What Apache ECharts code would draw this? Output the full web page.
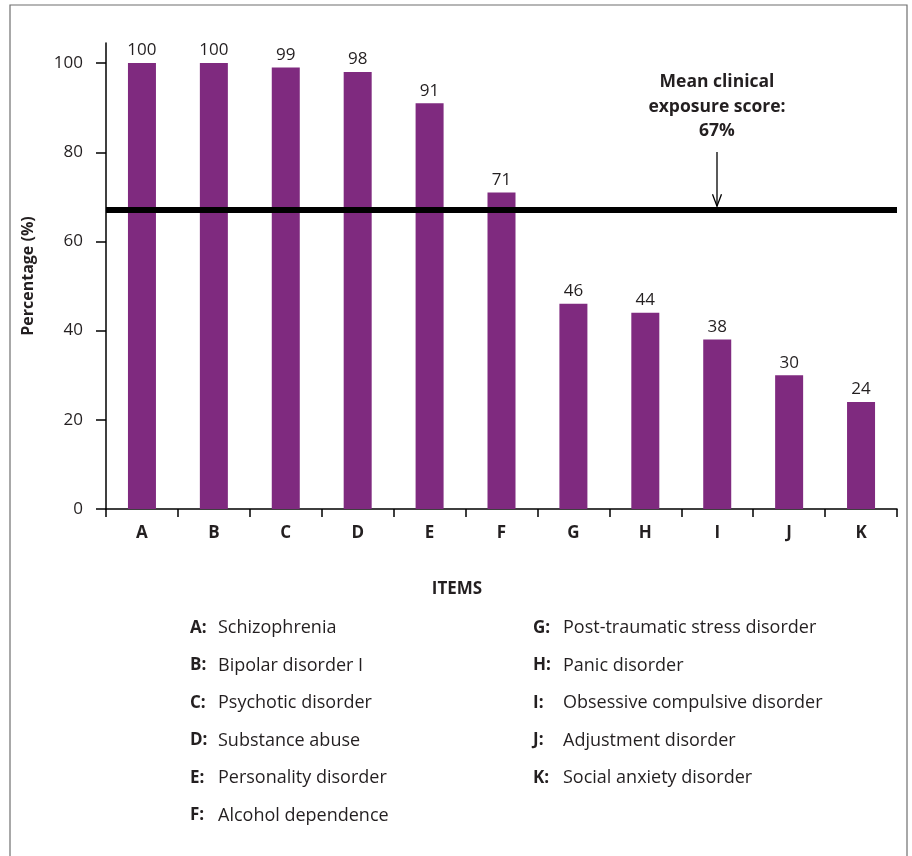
<!DOCTYPE html>
<html>
<head>
<meta charset="utf-8">
<script src="https://cdn.jsdelivr.net/npm/echarts@6/dist/echarts.min.js"></script>
<style>
  html, body { margin: 0; padding: 0; background: #fff; }
  #chart { width: 912px; height: 856px; }
</style>
</head>
<body>
<div id="chart"></div>
<script>
// Clinical exposure by diagnosis item (percentage of respondents)
const categories = ['A', 'B', 'C', 'D', 'E', 'F', 'G', 'H', 'I', 'J', 'K'];
const percentages = [100, 100, 99, 98, 91, 71, 46, 44, 38, 30, 24];
const itemNames = [
  'Schizophrenia',
  'Bipolar disorder I',
  'Psychotic disorder',
  'Substance abuse',
  'Personality disorder',
  'Alcohol dependence',
  'Post-traumatic stress disorder',
  'Panic disorder',
  'Obsessive compulsive disorder',
  'Adjustment disorder',
  'Social anxiety disorder'
];
const yTicks = [0, 20, 40, 60, 80, 100];
const meanScore = 67;

const FONT = '"Open Sans", "Noto Sans", sans-serif';
const INK = '#231f20';
const PURPLE = '#7f2a7f';

const chart = echarts.init(document.getElementById('chart'), null, { renderer: 'canvas' });

chart.setOption({
  backgroundColor: '#fff',
  animation: false,
  textStyle: { fontFamily: FONT, color: INK },
  grid: { left: 106, right: 15, top: 43, bottom: 347, containLabel: false },
  xAxis: {
    type: 'category',
    data: categories,
    axisLine: { lineStyle: { color: '#000', width: 1.5 } },
    axisTick: { show: true, length: 8, lineStyle: { color: '#000', width: 1.5 } },
    axisLabel: { fontFamily: FONT, fontWeight: 'bold', fontSize: 17, color: INK, margin: 16 }
  },
  yAxis: {
    type: 'value',
    min: 0,
    max: 104.5,
    name: 'Percentage (%)',
    nameLocation: 'middle',
    nameGap: 70,
    nameTextStyle: { fontFamily: FONT, fontWeight: 'bold', fontSize: 16, color: INK },
    splitLine: { show: false },
    axisLine: { show: true, lineStyle: { color: '#000', width: 1.5 } },
    axisTick: { show: true, length: 10, customValues: yTicks, lineStyle: { color: '#000', width: 1.5 } },
    axisLabel: { fontFamily: FONT, fontSize: 17, color: INK, margin: 23, customValues: yTicks }
  },
  series: [{
    type: 'bar',
    data: percentages,
    barWidth: 28,
    itemStyle: { color: PURPLE },
    label: {
      show: true,
      position: 'top',
      distance: 4,
      fontFamily: FONT,
      fontSize: 17,
      color: INK
    },
    markLine: {
      silent: true,
      symbol: 'none',
      label: { show: false },
      lineStyle: { color: '#000', width: 6, type: 'solid' },
      data: [{ yAxis: meanScore }]
    }
  }]
});

// Annotation for the mean line and the item key below the chart
const lineY = chart.convertToPixel({ yAxisIndex: 0 }, meanScore);
const annX = 717;
const tipY = lineY - 4;

const graphics = [
  {
    type: 'rect',
    shape: { x: 10, y: 5, width: 897, height: 900 },
    style: { fill: 'none', stroke: '#6f6f6f', lineWidth: 1.2 },
    silent: true
  },
  {
    type: 'text',
    x: annX,
    y: 70,
    style: {
      text: 'Mean clinical\nexposure score:\n' + meanScore + '%',
      fontFamily: FONT,
      fontWeight: 'bold',
      fontSize: 17.5,
      lineHeight: 24.5,
      fill: INK,
      textAlign: 'center',
      textVerticalAlign: 'top'
    }
  },
  {
    type: 'line',
    shape: { x1: annX, y1: 152, x2: annX, y2: tipY },
    style: { stroke: '#000', lineWidth: 1.3 }
  },
  {
    type: 'polyline',
    shape: { points: [[annX - 4.5, tipY - 12], [annX, tipY], [annX + 4.5, tipY - 12]] },
    style: { stroke: '#000', lineWidth: 1.3, fill: 'none' }
  },
  {
    type: 'text',
    x: 457,
    y: 589,
    style: {
      text: 'ITEMS', fontFamily: FONT, fontWeight: 'bold', fontSize: 17,
      fill: INK, textAlign: 'center', textVerticalAlign: 'middle'
    }
  }
];

const rowTop = 628;
const rowStep = 37.5;
const columns = [
  { keyX: 190, nameX: 218, start: 0, count: 6 },
  { keyX: 533, nameX: 563, start: 6, count: 5 }
];
columns.forEach(col => {
  for (let i = 0; i < col.count; i++) {
    const idx = col.start + i;
    const y = rowTop + i * rowStep;
    graphics.push({
      type: 'text', x: col.keyX, y: y,
      style: {
        text: categories[idx] + ':', fontFamily: FONT, fontWeight: 'bold', fontSize: 17,
        fill: INK, textAlign: 'left', textVerticalAlign: 'middle'
      }
    });
    graphics.push({
      type: 'text', x: col.nameX, y: y,
      style: {
        text: itemNames[idx], fontFamily: FONT, fontSize: 18,
        fill: INK, textAlign: 'left', textVerticalAlign: 'middle'
      }
    });
  }
});

chart.setOption({ graphic: graphics });
</script>
</body>
</html>
